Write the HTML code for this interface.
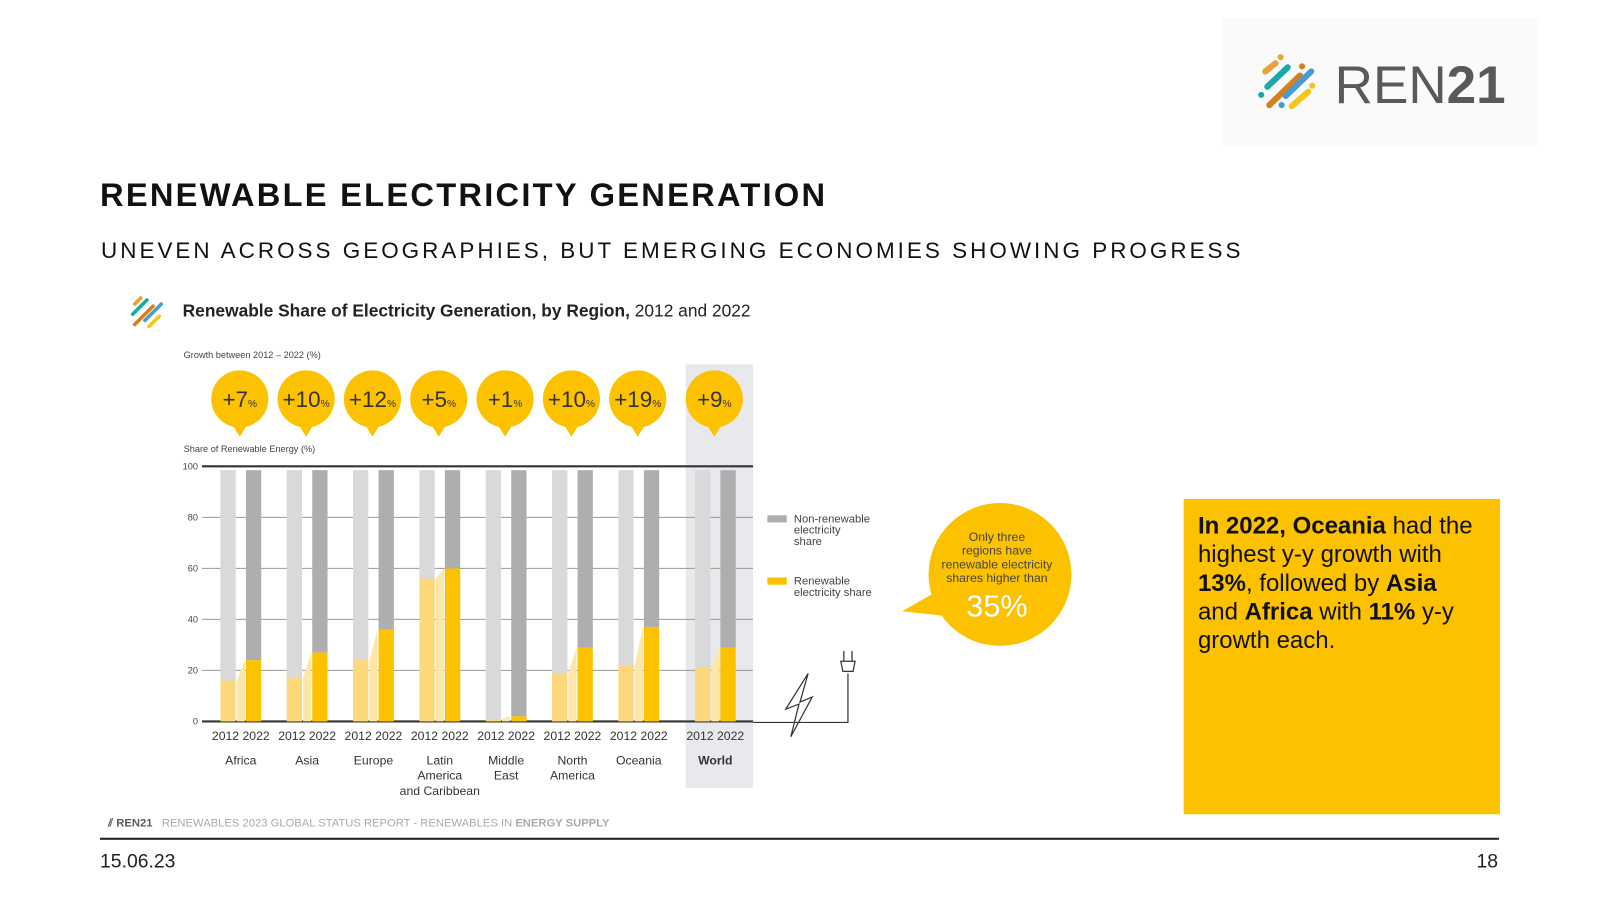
<!DOCTYPE html>
<html><head><meta charset="utf-8"><style>
body{margin:0;width:1600px;height:900px;background:#fff;font-family:"Liberation Sans",sans-serif;position:relative;overflow:hidden}
#wrap{position:absolute;left:0;top:0;width:1600px;height:900px;transform:scale(1.0204);transform-origin:0 0}
.a{position:absolute}
</style></head><body>
<div id="wrap">
<div class="a" style="left:1198px;top:18px;width:310px;height:125px;background:#fafafa"></div>
<svg class="a" style="left:1230px;top:48px" width="260" height="66">
<g stroke-linecap="round" stroke-width="6">
<line x1="10" y1="22" x2="20" y2="14" stroke="#e9a23b"/><line x1="12" y1="37" x2="32" y2="18" stroke="#1aa8a8"/>
<line x1="14" y1="55" x2="44" y2="26" stroke="#d4801f"/><line x1="30" y1="46" x2="55" y2="22" stroke="#4a9bd4"/>
<line x1="36" y1="56" x2="52" y2="42" stroke="#f5c518"/></g>
<circle cx="25" cy="8" r="3" fill="#e9a23b"/><circle cx="6" cy="45" r="3" fill="#1aa8a8"/><circle cx="46" cy="17" r="3" fill="#d4801f"/><circle cx="26" cy="55" r="3" fill="#4a9bd4"/><circle cx="56" cy="36" r="3" fill="#f5c518"/>
<text x="78" y="53" font-family="Liberation Sans" font-size="52" fill="#58595b">REN<tspan font-weight="bold">21</tspan></text></svg>
<div class="a" style="left:98px;top:173px;font-size:32px;font-weight:bold;letter-spacing:2.2px;color:#111">RENEWABLE ELECTRICITY GENERATION</div>
<div class="a" style="left:99px;top:233px;font-size:22px;letter-spacing:2.95px;color:#111">UNEVEN ACROSS GEOGRAPHIES, BUT EMERGING ECONOMIES SHOWING PROGRESS</div>
<svg class="a" style="left:126px;top:286px" width="40" height="36"><g stroke-linecap="round" stroke-width="3.5">
<line x1="6" y1="12" x2="12" y2="6" stroke="#e9a23b"/><line x1="4" y1="22" x2="18" y2="8" stroke="#1aa8a8"/><line x1="6" y1="32" x2="24" y2="14" stroke="#d4801f"/><line x1="16" y1="28" x2="32" y2="12" stroke="#4a9bd4"/><line x1="20" y1="34" x2="30" y2="24" stroke="#f5c518"/></g></svg>
<div class="a" style="left:179px;top:295px;font-size:17px;color:#222"><b>Renewable Share of Electricity Generation, by Region,</b> 2012 and 2022</div>
<svg id="chart" class="a" style="left:0;top:0" width="1100" height="800"></svg>
<div class="a" style="left:1160px;top:489px;width:296px;height:297px;background:#fcc200;padding:12px 0 0 14px;font-family:'Liberation Sans',sans-serif;font-size:23.5px;line-height:28px;color:#111"><b>In 2022, Oceania</b> had the<br>highest y-y growth with<br><b>13%</b>, followed by <b>Asia</b><br>and <b>Africa</b> with <b>11%</b> y-y<br>growth each.</div>
<div class="a" style="left:106px;top:801px;font-size:11px;color:#aaa"><b style="color:#58595b">⫽ REN21</b> &nbsp; RENEWABLES 2023 GLOBAL STATUS REPORT - RENEWABLES IN <b>ENERGY SUPPLY</b></div>
<div class="a" style="left:98px;top:821px;width:1371px;height:2px;background:#222"></div>
<div class="a" style="left:98px;top:834px;font-size:19px;color:#222">15.06.23</div>
<div class="a" style="left:1447px;top:834px;font-size:19px;color:#222">18</div>
</div>
<script>
const regions=["Africa","Asia","Europe","Latin America and Caribbean","Middle East","North America","Oceania","World"];
const share2012=[16,17,24,56,1,19,22,21];
const share2022=[24,27,36,60,2,29,37,29];
const growth=["+7","+10","+12","+5","+1","+10","+19","+9"];
const yTicks=[0,20,40,60,80,100];
const svg=document.getElementById('chart');const NS='http://www.w3.org/2000/svg';
function el(t,a,txt){const e=document.createElementNS(NS,t);for(const k in a)e.setAttribute(k,a[k]);if(txt!==undefined)e.textContent=txt;svg.appendChild(e);return e;}
const y=v=>707-2.5*v;
const cx=i=>236+65*i+(i===7?10:0);
let e;
e=el('rect',{x:672,y:357,width:66,height:415,fill:'#e8e9ec'});

e=el('text',{x:180,y:351,'font-size':9,fill:'#444'},'Growth between 2012 – 2022 (%)');

e=el('text',{x:180,y:443,'font-size':9,fill:'#444'},'Share of Renewable Energy (%)');

yTicks.forEach(t=>{
 e=el('line',{x1:198,x2:738,y1:y(t),y2:y(t),stroke:t===0||t===100?'#333':'#999','stroke-width':t===0||t===100?2:1});
 
 e=el('text',{x:194,y:y(t)+3,'font-size':9,fill:'#444','text-anchor':'end'},t);
 
});
regions.forEach((r,i)=>{
 const c=cx(i),a=share2012[i],b=share2022[i];
 e=el('rect',{x:c-20,y:y(98.5),width:15,height:y(a)-y(98.5),fill:'#d9d9da'});
 
 e=el('rect',{x:c+5,y:y(98.5),width:15,height:y(b)-y(98.5),fill:'#aeaeb0'});
 
 e=el('polygon',{points:`${c-4},${y(0)} ${c-4},${y(a)} ${c+4},${y(b)} ${c+4},${y(0)}`,fill:'#fde7a8'});
 
 e=el('rect',{x:c-20,y:y(a),width:15,height:y(0)-y(a),fill:'#fdd87a'});
 
 e=el('rect',{x:c+5,y:y(b),width:15,height:y(0)-y(b),fill:'#fcc200'});
 
 e=el('text',{x:c,y:725,'font-size':12,fill:'#333','text-anchor':'middle'},'2012 2022');
 
 const lines=r==='Latin America and Caribbean'?['Latin','America','and Caribbean']:r==='Middle East'?['Middle','East']:r==='North America'?['North','America']:[r];
 lines.forEach((l,k)=>{e=el('text',{x:c,y:749+15*k,'font-size':12,fill:'#333','text-anchor':'middle','font-weight':i===7?'bold':'normal'},l);
 });
 const bx=c-1,by=391;
 e=el('path',{d:`M${bx-8},${by+24} L${bx},${by+37} L${bx+8},${by+24} Z`,fill:'#fcc200'});
 
 e=el('circle',{cx:bx,cy:by,r:28,fill:'#fcc200'});
 
 const t=el('text',{x:bx,y:by+8,'font-size':22,fill:'#333','text-anchor':'middle'});
 
 t.innerHTML=growth[i]+'<tspan font-size="10">%</tspan>';
});
e=el('rect',{x:752,y:505,width:19,height:7,fill:'#aeaeb0'});
['Non-renewable','electricity','share'].forEach((s,k)=>{e=el('text',{x:778,y:512+11*k,'font-size':11,fill:'#444'},s);});
e=el('rect',{x:752,y:566,width:19,height:7,fill:'#fcc200'});
['Renewable','electricity share'].forEach((s,k)=>{e=el('text',{x:778,y:573+11*k,'font-size':11,fill:'#444'},s);});
e=el('path',{d:'M884,599 L935,570 L940,605 Z',fill:'#fcc200'});
e=el('circle',{cx:980,cy:563,r:70,fill:'#fcc200'});
['Only three','regions have','renewable electricity','shares higher than'].forEach((s,k)=>{e=el('text',{x:977,y:530+13.5*k,'font-size':12,fill:'#444','text-anchor':'middle'},s);});
e=el('text',{x:977,y:604,'font-size':30,fill:'#fff','text-anchor':'middle'},'35%');
e=el('path',{d:'M738,708 L831,708 L831,660 M824,648 L838,648 L836,658 L826,658 Z M827,648 L827,638 M835,648 L835,638 M792,660 L770,695 L783,690 L775,722 L796,683 L784,688 Z',fill:'none',stroke:'#333','stroke-width':1.2});

</script>
</body></html>
